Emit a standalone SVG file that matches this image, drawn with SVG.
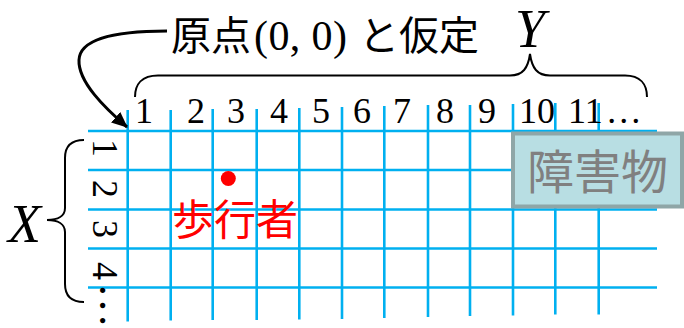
<svg xmlns="http://www.w3.org/2000/svg" width="684" height="328" viewBox="0 0 684 328">
<style>
.grid line{stroke:#00b0f0;stroke-width:2.6}
.num{font-family:"Liberation Serif",serif;font-size:36px;fill:#000}
.jp{font-family:"Noto Sans CJK JP",sans-serif}
.ink{fill:none;stroke:#000;stroke-width:2}
.var{font-family:"Liberation Serif",serif;font-style:italic;font-size:54px;fill:#000}
</style>
<defs>
<marker id="ah" markerUnits="userSpaceOnUse" viewBox="0 0 16 14" refX="15" refY="7" markerWidth="16" markerHeight="14" orient="auto">
<path d="M0,0 L16,7 L0,14 z" fill="#000"/>
</marker>
</defs>
<rect width="684" height="328" fill="#fff"/>
<g id="grid" class="grid">
<line x1="88" y1="131" x2="657" y2="131"/>
<line x1="88" y1="170" x2="657" y2="170"/>
<line x1="88" y1="209.5" x2="657" y2="209.5"/>
<line x1="88" y1="248.5" x2="657" y2="248.5"/>
<line x1="88" y1="287.5" x2="657" y2="287.5"/>
<line x1="127.7" y1="110" x2="127.7" y2="321.5"/>
<line x1="170.7" y1="110" x2="170.7" y2="320.5"/>
<line x1="212.7" y1="109" x2="212.7" y2="320"/>
<line x1="256.7" y1="109" x2="256.7" y2="320"/>
<line x1="299.3" y1="108" x2="299.3" y2="319.5"/>
<line x1="342" y1="107" x2="342" y2="319"/>
<line x1="384.3" y1="106" x2="384.3" y2="318"/>
<line x1="428" y1="105" x2="428" y2="317"/>
<line x1="470" y1="105" x2="470" y2="316"/>
<line x1="513" y1="104" x2="513" y2="315.5"/>
<line x1="555.3" y1="103" x2="555.3" y2="314.5"/>
<line x1="598.7" y1="103" x2="598.7" y2="314.5"/>
</g>
<g id="col-labels" class="num" text-anchor="middle">
<text x="144" y="123">1</text>
<text x="196" y="123">2</text>
<text x="236" y="123">3</text>
<text x="279" y="123">4</text>
<text x="321" y="123">5</text>
<text x="362" y="123">6</text>
<text x="402" y="123">7</text>
<text x="445" y="123">8</text>
<text x="487" y="123">9</text>
<text x="537" y="123">10</text>
<text x="568" y="123" text-anchor="start">11<tspan dx="3">…</tspan></text>
</g>
<g id="row-labels" class="num" text-anchor="middle">
<text transform="translate(92.5,148) rotate(90)">1</text>
<text transform="translate(92.5,189) rotate(90)">2</text>
<text transform="translate(92.5,229) rotate(90)">3</text>
<text transform="translate(92.5,271) rotate(90)">4</text>
<text transform="translate(99.5,283) rotate(90)" text-anchor="start" style="font-size:45px">…</text>
</g>
<g id="y-axis">
<path class="ink" d="M135,97 C135,84 142,75.5 158,75.5 L510,75.5 C523,75.5 528,68 530,54 C532,68 537,75.5 550,75.5 L625,75.5 C640,75.5 647,84 647,97"/>
<text class="var" x="515" y="47">Y</text>
</g>
<g id="x-axis">
<path class="ink" d="M84,140 C72,140 65,146 65,158 L65,208 C65,216 58,220 47,220 C58,220 65,224 65,232 L65,284 C65,296 72,302 84,302"/>
<text class="var" x="8" y="242">X</text>
</g>
<g id="origin-note">
<text class="jp" x="171" y="50" font-size="40" fill="#000">原点</text>
<text x="254" y="50" font-family="Liberation Serif, serif" font-size="42" fill="#000" textLength="93" lengthAdjust="spacing">(0, 0)</text>
<text class="jp" x="359" y="50" font-size="40" fill="#000">と仮定</text>
</g>
<g id="connectors">
<path d="M167,31 C125,31 80,36 79,60 C78,82 105,108 127,127" fill="none" stroke="#000" stroke-width="3" marker-end="url(#ah)"/>
</g>
<g id="pedestrian">
<circle cx="228.3" cy="178.5" r="7.5" fill="#ff0000"/>
<text class="jp" x="172" y="235" font-size="42" fill="#ff0000">歩行者</text>
</g>
<g id="obstacle">
<rect x="513" y="133.5" width="169" height="73" fill="#b8dee3" stroke="#8fa6a7" stroke-width="4"/>
<text class="jp" x="527" y="189" font-size="47" fill="#808080">障害物</text>
</g>
</svg>
